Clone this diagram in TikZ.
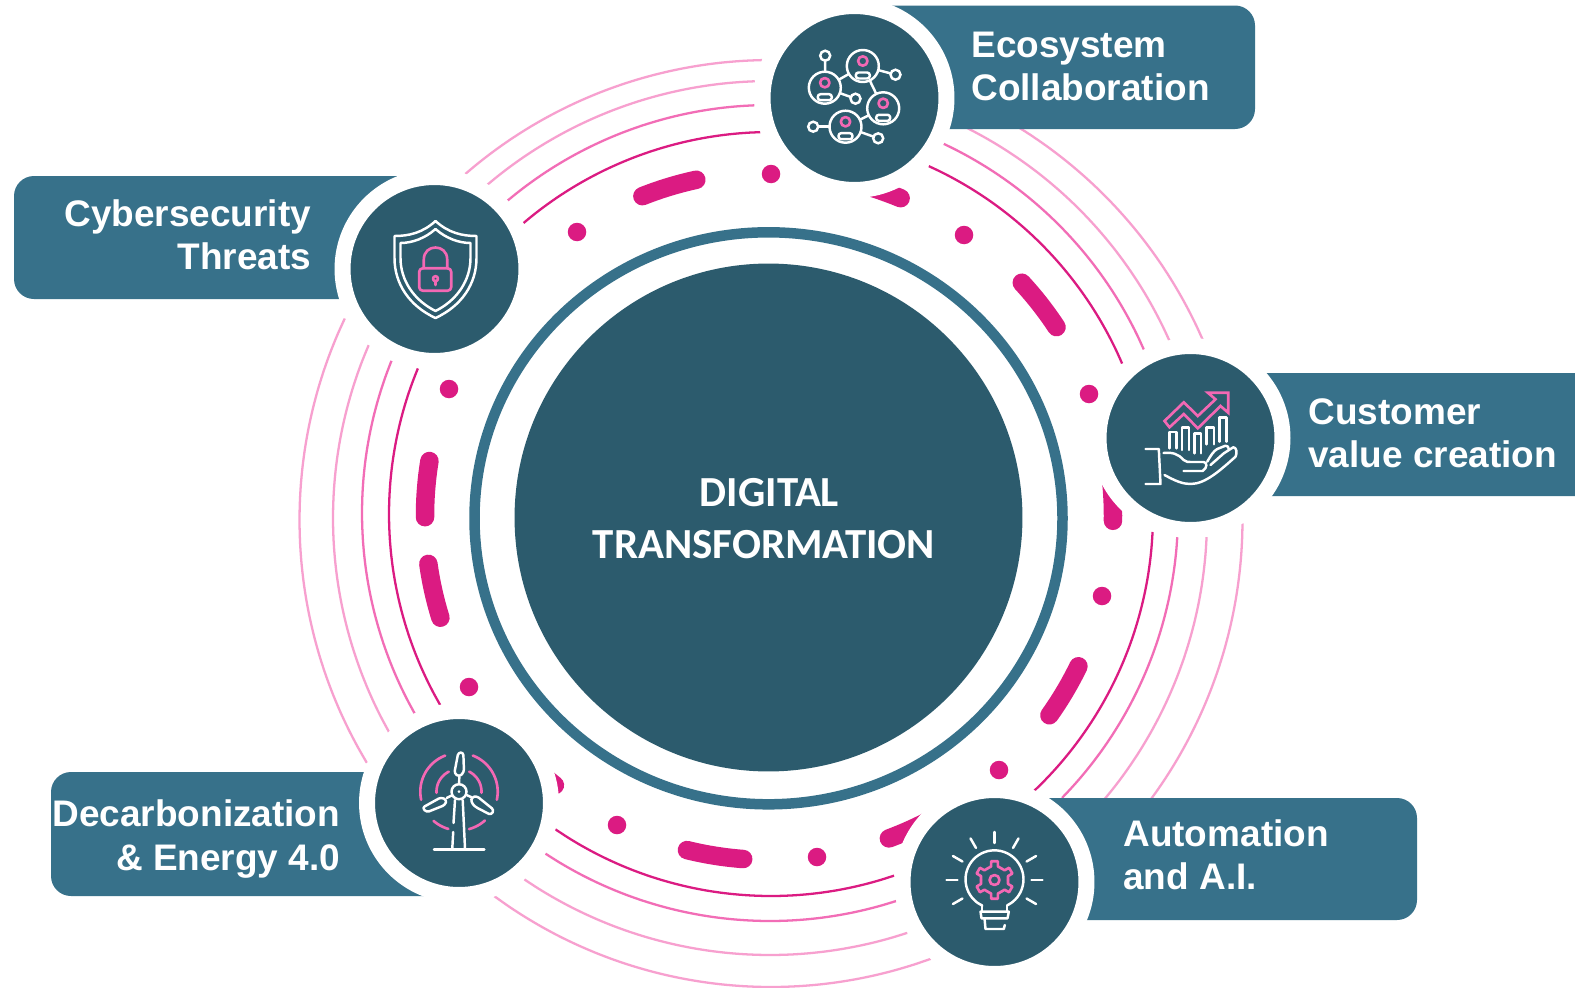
\documentclass[tikz,border=0pt]{standalone}
\usepackage{fontspec}
\setmainfont{Liberation Sans}
\newfontfamily\corefont{Carlito}
\definecolor{coreteal}{HTML}{2C5B6D}
\definecolor{boxteal}{HTML}{37718A}
\definecolor{dashpink}{HTML}{DB1B82}
\definecolor{ringa}{HTML}{DB1B82}
\definecolor{ringb}{HTML}{F26DB6}
\definecolor{ringc}{HTML}{F7A0CF}
\definecolor{iconpink}{HTML}{F368B4}
\begin{document}
\begin{tikzpicture}[x=0.02cm,y=-0.02cm,
    ringline/.style={line width=1.3pt},
    dashbar/.style={line width=0.37cm,line cap=round,dashpink},
    dotmark/.style={circle,fill=dashpink,minimum size=0.37cm,inner sep=0pt},
    labelbox/.style={fill=boxteal,rounded corners=0.4cm},
    labeltext/.style={text=white,font=\bfseries\fontsize{21.05}{24.5}\selectfont},
    coretext/.style={text=white,font=\corefont\bfseries\fontsize{24.4}{29.5}\selectfont},
    iconcircle/.style={circle,fill=coreteal,draw=white,line width=0.32cm,minimum size=3.68cm,inner sep=0pt,outer sep=0pt},
    iconline/.style={draw=white,line width=1.4pt,line cap=round,line join=round},
    iconaccent/.style={draw=iconpink,line width=1.5pt,line cap=round,line join=round},
    person/.style={circle,draw=white,line width=1.4pt,minimum size=0.64cm,inner sep=0pt,outer sep=0pt},
    spoke/.style={circle,draw=white,line width=1.4pt,minimum size=0.2cm,inner sep=0pt,outer sep=0pt}]
    \useasboundingbox[fill=white] (0,0) rectangle (1575,987);

    % Thin rings %
    \foreach \a/\b in {-130.4/-91.6,-65.6/-23.2,2.7/46.4,71.2/124.4,150/202.4}
        \draw[ringline,ringa,domain=\a:\b,smooth,variable=\t] plot ({771+382*cos(\t)},{514+382*sin(\t)});
    \foreach \a/\b in {-130/-92.2,-64.8/-23.6,3.4/44.3,72/123.4,150.6/201.9}
        \draw[ringline,ringb,domain=\a:\b,smooth,variable=\t] plot ({770+408*cos(\t)},{513+408*sin(\t)});
    \foreach \a/\b in {-130.3/-92,-66/-24,2.5/42,71.7/124.2,150.6/203.3}
        \draw[ringline,ringc,domain=\a:\b,smooth,variable=\t] plot ({770+437*cos(\t)},{518+437*sin(\t)});
    \draw[ringline,ringc,domain=-130.9:-91.1,smooth,variable=\t] plot ({771+467*cos(\t)},{527+467*sin(\t)});
    \draw[ringline,ringc,domain=-60:-23.6,smooth,variable=\t] plot ({771+471*cos(\t)},{528+471*sin(\t)});
    \foreach \a/\b in {0.4/38,149/205.3}
        \draw[ringline,ringc,domain=\a:\b,smooth,variable=\t] plot ({771+471.5*cos(\t)},{520+471.5*sin(\t)});
    \draw[ringline,ringc,domain=70:126.4,smooth,variable=\t] plot ({771+467*cos(\t)},{520+467*sin(\t)});

    % Dashes and dots %
    \foreach \a/\b in {-111.6/-102.2,-76/-67.5,-42.7/-33.3,-10/0.8,25.9/35.4,60/69.6,94.3/103.8,128.5/138,162.8/172,179.8/189.2}
        \draw[dashbar,domain=\a:\b,smooth,variable=\t] plot ({769+344*cos(\t)},{516+344*sin(\t)});
    \foreach \n/\x/\y in {da/577/232,db/771/174,dc/964/235,dd/1089/394,de/1102/596,df/999/770,dg/817/857,dh/617/825,di/469/687,dj/449/389}
        \node[dotmark] (\n) at (\x,\y) {};

    % Centre %
    \node[circle,fill=coreteal,minimum size=10.16cm,inner sep=0pt] (core) at (768.5,517.5) {};
    \draw[boxteal,line width=0.21cm] (768.5,518.3) ellipse (294 and 286);
    \node[coretext] (coretop) at (769.5,492.5) {DIGITAL};
    \node[coretext] (corebottom) at (764,544.5) {TRANSFORMATION};

    % Label boxes %
    \fill[labelbox] (860,5.5) rectangle (1255,129);
    \fill[labelbox] (14,176) rectangle (430,299);
    \fill[labelbox] (1195,373) rectangle (1620,496);
    \fill[labelbox] (51,772) rectangle (460,896);
    \fill[labelbox] (1000,798) rectangle (1417,920);

    \node[labeltext,align=left,anchor=west,inner sep=0pt] (ecotext) at (971,66.5) {Ecosystem\\Collaboration};
    \node[labeltext,align=right,anchor=east,inner sep=0pt] (cybertext) at (311.5,235) {Cybersecurity\\Threats};
    \node[labeltext,align=left,anchor=west,inner sep=0pt] (valuetext) at (1308,433) {Customer\\value creation};
    \node[labeltext,align=right,anchor=east,inner sep=0pt] (energytext) at (340.5,839) {Decarbonization\\\& Energy 4.0};
    \node[labeltext,align=left,anchor=west,inner sep=0pt] (aitext) at (1123,855) {Automation\\and A.I.};

    % Icon circles %
    \node[iconcircle] (eco) at (854.5,98) {};
    \node[iconcircle] (cyber) at (434.5,269) {};
    \node[iconcircle] (value) at (1190.5,438) {};
    \node[iconcircle] (energy) at (459,803) {};
    \node[iconcircle] (ai) at (994.5,882) {};

    % Network icon %
    \begin{scope}[shift={(eco)}]
        \foreach \n/\x/\y in {pa/-29.7/-10.3,pb/8.3/-32,pc/28.7/10.3,pd/-9/28.7}{
            \node[person] (\n) at (\x,\y) {};
            \draw[iconaccent] (\x,\y-5) circle (4.7);
            \draw[iconline,rounded corners=1.5pt] (\x-7,\y+6.5) rectangle (\x+7,\y+12.5);
        }
        \foreach \n/\x/\y in {sa/-29.3/-42.3,sb/41/-23.3,sc/1/0.7,sd/-41.3/28.7,se/23.7/40.3}
            \node[spoke] (\n) at (\x,\y) {};
        \draw[iconline] (sa) -- (pa);
        \draw[iconline] (pa) -- (pb);
        \draw[iconline] (pa) -- (sc);
        \draw[iconline] (pb) -- (sb);
        \draw[iconline] (pb) -- (pc);
        \draw[iconline] (pc) -- (pd);
        \draw[iconline] (sd) -- (pd);
        \draw[iconline] (pd) -- (se);
    \end{scope}

    % Shield icon %
    \begin{scope}[shift={(cyber)}]
        \draw[iconline] (1,-48) .. controls (-12,-36) and (-26,-33) .. (-40,-33) -- (-40,-11) .. controls (-40,15) and (-25,37) .. (1,49) .. controls (27,37) and (42,15) .. (42,-11) -- (42,-33) .. controls (28,-33) and (14,-36) .. (1,-48) -- cycle;
        \draw[iconline] (1,-40) .. controls (-9,-31) and (-22,-26) .. (-34,-26) -- (-34,-11) .. controls (-34,11) and (-21,31) .. (1,42) .. controls (23,31) and (36,11) .. (36,-11) -- (36,-26) .. controls (24,-26) and (11,-31) .. (1,-40) -- cycle;
        \draw[iconaccent,rounded corners=2pt] (-15.3,-0.7) rectangle (16.7,21.7);
        \draw[iconaccent] (-10.7,-0.7) -- (-10.7,-9.5) .. controls (-10.7,-25.5) and (12.7,-25.5) .. (12.7,-9.5) -- (12.7,-0.7);
        \draw[iconaccent] (1,9.7) circle (2.5);
        \draw[iconaccent] (1,12) -- (1,16);
    \end{scope}

    % Hand and chart icon %
    \begin{scope}[shift={(value)}]
        \draw[iconaccent,line join=miter] (-26,-17) -- (-6.7,-35.7) -- (7.3,-22) -- (25,-38.7) -- (17.3,-45.3) -- (37.7,-45.3) -- (37.7,-25.3) -- (30,-32) -- (7.3,-9.7) -- (-6.7,-24) -- (-21,-10.7) -- cycle;
        \draw[iconline] (-21,10.3) -- (-21,-6) -- (-14,-6) -- (-14,10.3);
        \draw[iconline] (-8.3,12) -- (-8.3,-10.3) -- (-1.7,-10.3) -- (-1.7,12);
        \draw[iconline] (4,15.3) -- (4,-4.7) -- (10.7,-4.7) -- (10.7,15.3);
        \draw[iconline] (16,6.3) -- (16,-10.7) -- (23.3,-10.7) -- (23.3,6.3);
        \draw[iconline] (29,3.7) -- (29,-20.3) -- (36,-20.3) -- (36,3.7);
        \draw[iconline] (-45,11) -- (-31.7,11) -- (-30,46) -- (-45,46);
        \draw[iconline] (-27,15) .. controls (-18,14) and (-12,16) .. (-7,22) .. controls (-5,24) and (-2,24) .. (0,24) -- (13,24) .. controls (17,24) and (17,30) .. (12,33) -- (-7,33);
        \draw[iconline] (16.7,23.7) .. controls (20,18) and (23,13) .. (26.7,11) -- (35,7.7) .. controls (37,7.5) and (38,9) .. (38.3,11);
        \draw[iconline] (20,27) -- (33.3,15.3) -- (42.7,9.3) .. controls (46,9) and (47,15) .. (45,18.7) .. controls (30,32) and (15,46) .. (0,46) .. controls (-8,46) and (-15,43) .. (-26,37);
    \end{scope}

    % Turbine icon %
    \begin{scope}[shift={(energy)}]
        \node[circle,draw=white,line width=1.4pt,minimum size=0.3cm,inner sep=0pt] (hub) at (0,-11.3) {};
        \fill[white] (hub) circle (1.5);
        \draw[iconline,rounded corners=1.5pt] (-4.7,-29.7) -- (-0.7,-50.5) -- (4.3,-50.5) -- (5,-31) -- (0.3,-26.3) -- cycle;
        \draw[iconline] (0.3,-26.3) -- (hub);
        \draw[iconline,rounded corners=1.5pt] (-36.7,4.7) -- (-18,-5.7) -- (-12.3,-3) -- (-14,2) -- (-32.3,9.3) -- cycle;
        \draw[iconline] (-12.3,-5) -- (hub);
        \draw[iconline,rounded corners=1.5pt] (12.7,-5.7) -- (17.7,-7) -- (35,7) -- (32,12) -- (16,3.7) -- (12,-1.3) -- cycle;
        \draw[iconline] (12.7,-5.7) -- (hub);
        \draw[iconline] (-4,-3) -- (-5.5,20);
        \draw[iconline] (-5.8,29) -- (-6.7,45.3);
        \draw[iconline] (3.7,-3) -- (6,45.3);
        \draw[iconline] (-25,46.3) -- (25.3,46.3);
        \foreach \a/\b/\r in {-192/-111/38.7,-69/12/38.7,106/131/38.7,48/75/38.7,-183/-117/22.5,-63/3/22.5}
            \draw[iconaccent,domain=\a:\b,smooth,variable=\t] plot ({\r*cos(\t)},{-11.3+\r*sin(\t)});
    \end{scope}

    % Bulb icon %
    \begin{scope}[shift={(ai)}]
        \draw[iconline,domain=115:424,smooth,variable=\t] plot ({29*cos(\t)},{-2.7+29*sin(\t)});
        \draw[iconline] (-12.3,23.7) -- (-12.3,29.7);
        \draw[iconline] (12.7,23.7) -- (12.7,29.7);
        \draw[iconline] (-14,29.7) -- (14.3,29.7) -- (13,36.3) -- (-13,36.3) -- cycle;
        \draw[iconline] (-10,36.3) -- (-9,47) -- (9.3,47) -- (10.3,43);
        \foreach \a in {-150,-120,-90,-60,-30,0,30,150,180}
            \draw[iconline] ({37*cos(\a)},{-2+37*sin(\a)}) -- ({48*cos(\a)},{-2+48*sin(\a)});
        \draw[iconaccent] (0,-2) circle (5);
        \foreach \a in {-90,-30,30,90,150,210}
            \draw[iconaccent] ({13.5*cos(\a-30)},{-2+13.5*sin(\a-30)}) -- ({14*cos(\a-14)},{-2+14*sin(\a-14)}) -- ({19*cos(\a-10)},{-2+19*sin(\a-10)}) -- ({19*cos(\a+10)},{-2+19*sin(\a+10)}) -- ({14*cos(\a+14)},{-2+14*sin(\a+14)}) -- ({13.5*cos(\a+30)},{-2+13.5*sin(\a+30)});
    \end{scope}
\end{tikzpicture}
\end{document}
